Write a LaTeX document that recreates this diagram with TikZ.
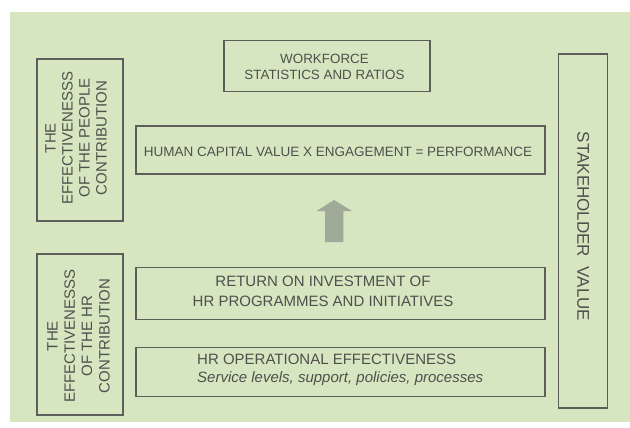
\documentclass[tikz,border=0pt]{standalone}
\usepackage{fontspec}
\setmainfont{Liberation Sans}
\definecolor{bggreen}{RGB}{214,230,193}
\definecolor{edge}{RGB}{92,94,90}
\definecolor{txt}{RGB}{78,80,76}
\definecolor{arrowfill}{RGB}{160,170,152}
\begin{document}
\begin{tikzpicture}[x=1pt,y=-1pt,
  box/.style={draw=edge, line width=1.5pt, inner sep=0pt},
  lbl/.style={text=txt, inner sep=0pt, align=center},
]
\useasboundingbox (0,0) rectangle (630,428);
\fill[white] (0,0) rectangle (630,428);
\fill[bggreen] (10,12) rectangle (630,422);

% boxes
\node[box, minimum width=86pt, minimum height=162pt] (peoplebox) at (80,140) {};
\node[box, minimum width=86pt, minimum height=161pt] (hrbox) at (80,334.5) {};
\node[box, minimum width=206pt, minimum height=51pt] (workforce) at (327,66.2) {};
\node[box, minimum width=409pt, minimum height=48pt] (hcv) at (340.5,150) {};
\node[box, minimum width=409pt, minimum height=52pt] (roi) at (340.5,293.3) {};
\node[box, minimum width=409pt, minimum height=49pt] (hrop) at (340.5,372) {};
\node[box, minimum width=49pt, minimum height=354pt] (stake) at (582.8,231) {};

% texts
\node[lbl, rotate=90, font=\fontsize{15}{17}\selectfont] (peopletxt) at (76,138)
  {THE\\EFFECTIVENESSS\\OF THE PEOPLE\\CONTRIBUTION};
\node[lbl, rotate=90, font=\fontsize{15}{17.3}\selectfont] (hrtxt) at (78.5,336)
  {THE\\EFFECTIVENESSS\\OF THE HR\\CONTRIBUTION};
\node[lbl, font=\fontsize{13.4}{16}\selectfont] (workforcetxt) at (324.5,66.7)
  {WORKFORCE\\STATISTICS AND RATIOS};
\node[lbl, font=\fontsize{13.5}{16}\selectfont] (hcvtxt) at (338,152.3)
  {HUMAN CAPITAL VALUE X ENGAGEMENT = PERFORMANCE};
\node[lbl, font=\fontsize{15}{19.5}\selectfont] (roitxt) at (323,291.4)
  {RETURN ON INVESTMENT OF\\HR PROGRAMMES AND INITIATIVES};
\node[lbl, align=left, anchor=west, font=\fontsize{15}{18}\selectfont] (hroptxt) at (197,370)
  {HR OPERATIONAL EFFECTIVENESS\\\textit{Service levels, support, policies, processes}};
\node[lbl, rotate=-90, font=\fontsize{17}{20}\selectfont] (staketxt) at (583.3,226.5)
  {STAKEHOLDER\ \ VALUE};

% block arrow
\coordinate (arrtip) at (334,200);
\fill[arrowfill] (arrtip) -- (352,211) -- (343.3,211) -- (343.3,242)
  -- (325,242) -- (325,211) -- (316.5,211) -- cycle;
\end{tikzpicture}
\end{document}
